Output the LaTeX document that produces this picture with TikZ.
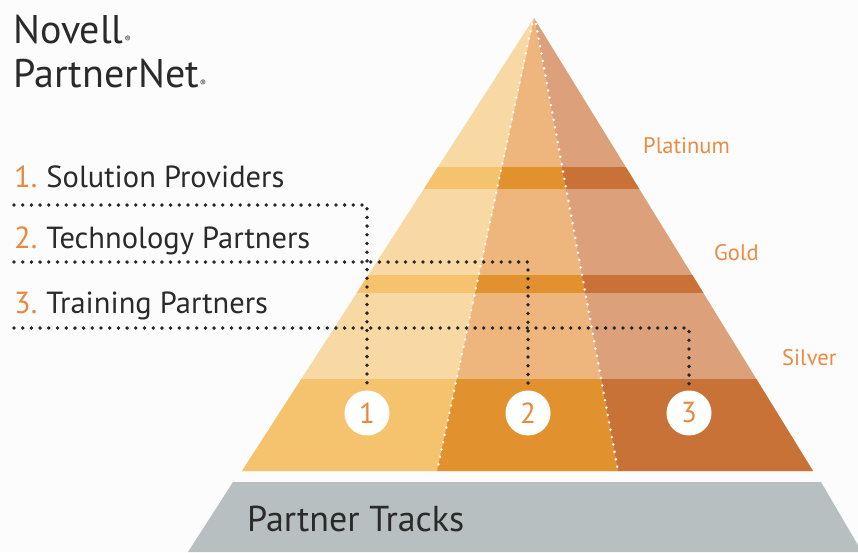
\documentclass[tikz,border=0pt]{standalone}
\usepackage{fontspec}
\setmainfont{PT Sans}
\definecolor{lightL}{HTML}{F8D8A3}
\definecolor{bandL}{HTML}{F5C26E}
\definecolor{lightM}{HTML}{EEB67C}
\definecolor{bandM}{HTML}{E2912F}
\definecolor{lightR}{HTML}{DCA17A}
\definecolor{bandR}{HTML}{C87238}
\definecolor{tierorange}{HTML}{EA8B40}
\definecolor{numorange}{HTML}{E8883C}
\definecolor{ink}{HTML}{2A2A2A}
\definecolor{basegray}{HTML}{B8BFC1}
\definecolor{bg}{HTML}{FCFCFD}
\begin{document}
\begin{tikzpicture}[x=1pt,y=-1pt,
  logo/.style={anchor=base west,inner sep=0pt,text=ink,font=\fontsize{40}{42}\selectfont},
  lbl/.style={anchor=base west,inner sep=0pt,text=ink,font=\fontsize{30.5}{32}\selectfont},
  tier/.style={anchor=base west,inner sep=0pt,text=tierorange,font=\fontsize{22.5}{24}\selectfont},
  circ/.style={circle,fill=white,minimum size=45pt,inner sep=0pt,text=numorange,font=\fontsize{29}{30}\selectfont},
  blackdots/.style={draw=black!85,line width=3.8pt,line cap=round,dash pattern=on 0pt off 8.7pt},
  whitedots/.style={draw=white,line width=2.8pt,line cap=round,dash pattern=on 0pt off 7.5pt},
  basetext/.style={anchor=base west,inner sep=0pt,text=ink,font=\fontsize{36}{38}\selectfont}]
\useasboundingbox[fill=bg] (0,0) rectangle (858,552);
% gray base
\fill[basegray] (233,482) -- (821,482) -- (862,552) -- (188,552) -- cycle;
\node[basetext] (tracks) at (247,531) {Partner Tracks};
% pyramid
\coordinate (apex) at (534,18);
\coordinate (bl) at (242,471);
\coordinate (br) at (813,471);
\coordinate (dl) at (437,471);
\coordinate (dr) at (618,471);
\foreach \a/\b/\lc/\bc in {bl/dl/lightL/bandL, dl/dr/lightM/bandM, dr/br/lightR/bandR}{
  \begin{scope}
    \clip (apex) -- (\a) -- (\b) -- cycle;
    \fill[\lc] (0,0) rectangle (858,480);
    \fill[\bc] (0,167) rectangle (858,189);
    \fill[\bc] (0,275) rectangle (858,293);
    \fill[\bc] (0,379) rectangle (858,480);
  \end{scope}
}
\coordinate (dlt) at (532,24);
\coordinate (drt) at (536,24);
\draw[whitedots] (dlt) -- (dl);
\draw[whitedots] (drt) -- (dr);
% tier labels
\node[tier] (plat) at (643,153) {Platinum};
\node[tier] (gold) at (714,260) {Gold};
\node[tier] (silver) at (782,365) {Silver};
% logo
\node[logo] (novell) at (13,43) {Novell\hspace{1pt}\raisebox{1pt}{\fontsize{9}{9}\selectfont ®}};
\node[logo] (pnet) at (13,87) {PartnerNet\hspace{1pt}\raisebox{1pt}{\fontsize{9}{9}\selectfont ®}};
% track labels
\node[lbl] (l1) at (14,187) {\textcolor{numorange}{1.}\hspace{0.3em}Solution Providers};
\node[lbl] (l2) at (14,248) {\textcolor{numorange}{2.}\hspace{0.3em}Technology Partners};
\node[lbl] (l3) at (14,313) {\textcolor{numorange}{3.}\hspace{0.3em}Training Partners};
% circles
\node[circ] (c1) at (367,413) {1};
\node[circ] (c2) at (528,413) {2};
\node[circ] (c3) at (689,413) {3};
% connectors
\coordinate (s1) at (14,205);
\coordinate (s2) at (14,262);
\coordinate (s3) at (14,328);
\draw[blackdots,shorten >=5pt] (s1) -| (c1.north);
\draw[blackdots,shorten >=5pt] (s2) -| (c2.north);
\draw[blackdots,shorten >=5pt] (s3) -| (c3.north);
\end{tikzpicture}
\end{document}
